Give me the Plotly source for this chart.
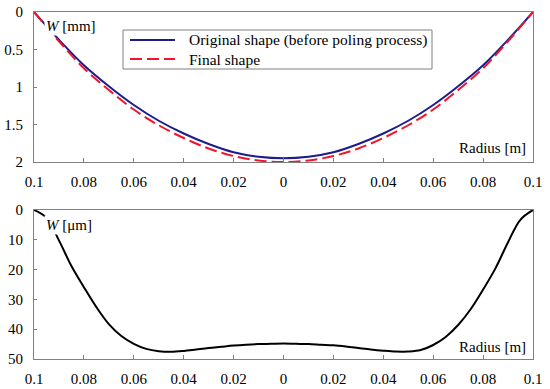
import plotly.graph_objects as go

# ---- data ----
radius_top = [-0.10, -0.09, -0.08, -0.07, -0.06, -0.05, -0.04, -0.03, -0.02, -0.01, 0.0,
              0.01, 0.02, 0.03, 0.04, 0.05, 0.06, 0.07, 0.08, 0.09, 0.10]
w_original_mm = [0.0, 0.37, 0.71, 0.99, 1.24, 1.45, 1.62, 1.76, 1.87, 1.93, 1.95,
                 1.93, 1.87, 1.76, 1.62, 1.45, 1.24, 0.99, 0.71, 0.37, 0.0]
w_final_mm = [0.0, 0.39, 0.75, 1.04, 1.30, 1.51, 1.68, 1.82, 1.92, 1.98, 2.00,
              1.98, 1.92, 1.82, 1.68, 1.51, 1.30, 1.04, 0.75, 0.39, 0.0]

radius_bot = [-0.100, -0.095, -0.090, -0.085, -0.080, -0.075, -0.070, -0.065, -0.060, -0.055,
              -0.050, -0.045, -0.040, -0.035, -0.030, -0.025, -0.020, -0.015, -0.010, -0.005,
              0.000, 0.005, 0.010, 0.015, 0.020, 0.025, 0.030, 0.035, 0.040, 0.045,
              0.050, 0.055, 0.060, 0.065, 0.070, 0.075, 0.080, 0.085, 0.090, 0.095, 0.100]
w_diff_um = [0.0, 2.6, 10.2, 18.8, 25.9, 32.6, 38.3, 42.3, 44.9, 46.6,
             47.4, 47.6, 47.3, 46.8, 46.3, 45.9, 45.5, 45.2, 45.0, 44.9,
             44.8, 44.9, 45.0, 45.2, 45.4, 45.8, 46.3, 46.8, 47.2, 47.5,
             47.5, 47.0, 45.3, 42.6, 38.6, 33.3, 26.7, 19.5, 10.8, 3.2, 0.0]

x_tickvals = [-0.1, -0.08, -0.06, -0.04, -0.02, 0, 0.02, 0.04, 0.06, 0.08, 0.1]
x_ticktext = ["0.1", "0.08", "0.06", "0.04", "0.02", "0", "0.02", "0.04", "0.06", "0.08", "0.1"]
y_top_ticks = [0, 0.5, 1, 1.5, 2]
y_top_text = ["0", "0.5", "1", "1.5", "2"]
y_bot_ticks = [0, 10, 20, 30, 40, 50]
legend_names = ["Original shape (before poling process)", "Final shape"]

FONT = "Liberation Serif"
AX = "#808080"
BLUE = "#1c1c8c"
RED = "#f0142c"
DASH = "12px,5px"
W, H = 550, 389

fig = go.Figure()
fig.add_trace(go.Scatter(x=radius_top, y=w_original_mm, mode="lines", line=dict(color=BLUE, width=2, shape="spline"),
                         name=legend_names[0], xaxis="x", yaxis="y", showlegend=False))
fig.add_trace(go.Scatter(x=radius_top, y=w_final_mm, mode="lines", line=dict(color=RED, width=2, dash=DASH, shape="spline"),
                         name=legend_names[1], xaxis="x", yaxis="y", showlegend=False))
fig.add_trace(go.Scatter(x=radius_bot, y=w_diff_um, mode="lines", line=dict(color="black", width=2, shape="spline", smoothing=1),
                         showlegend=False, xaxis="x2", yaxis="y2"))

xcommon = dict(range=[-0.1, 0.1], tickvals=x_tickvals, ticktext=x_ticktext, ticks="inside", ticklen=4,
               tickcolor=AX, showline=True, linecolor=AX, linewidth=1, mirror=True, showgrid=False,
               zeroline=False, tickfont=dict(family=FONT, size=15, color="black"), ticklabelstandoff=6,
               domain=[34/W, 533/W], automargin=False)
ycommon = dict(ticks="inside", ticklen=3, tickcolor=AX, showline=True, linecolor=AX, linewidth=1, mirror=True,
               showgrid=False, zeroline=False, tickfont=dict(family=FONT, size=15, color="black"),
               ticklabelstandoff=7, automargin=False)

fig.update_layout(
    width=W, height=H, margin=dict(l=0, r=0, t=0, b=0, autoexpand=False),
    font=dict(family=FONT, size=15, color="black"),
    paper_bgcolor="white", plot_bgcolor="white",
    xaxis=dict(anchor="y", **xcommon),
    xaxis2=dict(anchor="y2", **xcommon),
    yaxis=dict(anchor="x", range=[2, 0], tickvals=y_top_ticks, ticktext=y_top_text,
               domain=[1-162/H, 1-12/H], **ycommon),
    yaxis2=dict(anchor="x2", range=[50, 0], tickvals=y_bot_ticks,
                domain=[1-359/H, 1-210/H], **ycommon),
    showlegend=False,
)

# legend box drawn in paper coordinates
fig.add_shape(type="rect", xref="paper", yref="paper", x0=123/W, x1=432/W, y0=1-69/H, y1=1-30/H,
              line=dict(color=AX, width=1), fillcolor="white", layer="above")
fig.add_shape(type="line", xref="paper", yref="paper", x0=130/W, x1=175/W, y0=1-40/H, y1=1-40/H,
              line=dict(color=BLUE, width=2), layer="above")
fig.add_shape(type="line", xref="paper", yref="paper", x0=130/W, x1=175/W, y0=1-59/H, y1=1-59/H,
              line=dict(color=RED, width=2, dash=DASH), layer="above")
leg_font = dict(family=FONT, size=15.5, color="black")
fig.add_annotation(xref="paper", yref="paper", x=187/W, y=1-40/H, xanchor="left", yanchor="middle",
                   text=legend_names[0], showarrow=False, font=leg_font)
fig.add_annotation(xref="paper", yref="paper", x=187/W, y=1-59/H, xanchor="left", yanchor="middle",
                   text=legend_names[1], showarrow=False, font=leg_font)

ann_font = dict(family=FONT, size=15, color="black")
fig.add_annotation(xref="paper", yref="paper", x=44/W, y=1-26/H, xanchor="left", yanchor="middle",
                   text="<i>W</i> [mm]", showarrow=False, font=ann_font, bgcolor="white")
fig.add_annotation(xref="paper", yref="paper", x=44/W, y=1-225/H, xanchor="left", yanchor="middle",
                   text="<i>W</i> [\u03bcm]", showarrow=False, font=ann_font, bgcolor="white")
fig.add_annotation(xref="paper", yref="paper", x=528/W, y=1-148/H, xanchor="right", yanchor="middle",
                   text="Radius [m]", showarrow=False, font=ann_font)
fig.add_annotation(xref="paper", yref="paper", x=528/W, y=1-347/H, xanchor="right", yanchor="middle",
                   text="Radius [m]", showarrow=False, font=ann_font)

fig.write_html("out.html", config={"displayModeBar": False},
               post_script="document.body.style.margin='0';document.body.style.overflow='hidden';")
